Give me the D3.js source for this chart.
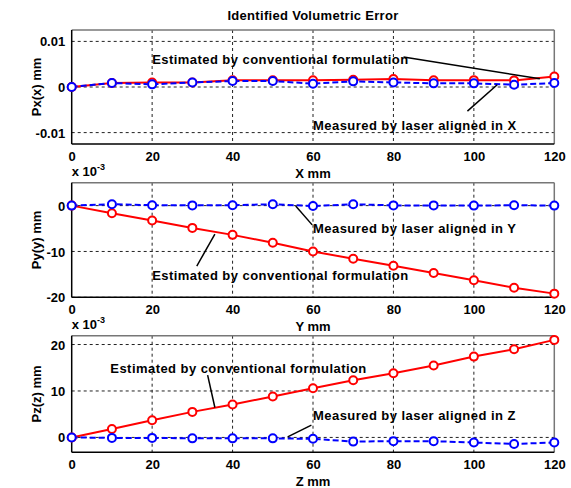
<!DOCTYPE html>
<html>
<head>
<meta charset="utf-8">
<script src="https://d3js.org/d3.v7.min.js"></script>
<style>
  body { margin: 0; background: #fff; }
  text { font-family: "Liberation Sans", Arial, sans-serif; font-weight: bold; fill: #000; }
</style>
</head>
<body>
<script>
// positions along each axis (mm)
var positions = [0, 10, 20, 30, 40, 50, 60, 70, 80, 90, 100, 110, 120]
var xTicks = [0, 20, 40, 60, 80, 100, 120]

// Px(x), mm
var pxEstimated = [0, 0.00088, 0.001, 0.001, 0.00146, 0.00146, 0.00146, 0.0016, 0.00175, 0.00146, 0.0015, 0.00145, 0.0023]
var pxMeasured  = [0, 0.00088, 0.00058, 0.001, 0.0013, 0.0013, 0.00073, 0.00124, 0.001, 0.0008, 0.0008, 0.0005, 0.00087]
// Py(y), x 10^-3 mm
var pyEstimated = [0, -1.67, -3.26, -4.86, -6.38, -8.1, -10.0, -11.6, -13.1, -14.7, -16.3, -17.9, -19.2]
var pyMeasured  = [0, 0.3, 0.1, 0.05, 0.1, 0.3, -0.1, 0.3, 0.05, 0.05, 0.0, 0.1, 0.0]
// Pz(z), x 10^-3 mm
var pzEstimated = [0, 1.8, 3.7, 5.5, 7.1, 8.8, 10.6, 12.3, 13.8, 15.5, 17.4, 19.0, 21.0]
var pzMeasured  = [0, -0.1, -0.1, -0.2, -0.2, -0.2, -0.3, -0.9, -0.8, -0.8, -1.1, -1.4, -1.1]

var panels = [
  { est: pxEstimated, meas: pxMeasured, yDomain: [-0.0125, 0.0125], yTicks: [-0.01, 0, 0.01],
    yLabel: "Px(x) mm", xLabel: "X mm", scaleNote: false, top: 30, bottom: 144,
    notes: [
      { text: "Estimated by conventional formulation", tx: 20, ty: 0.0061, line: [82.5, 0.0066, 116.4, 0.0018] },
      { text: "Measured by laser aligned in X", tx: 60, ty: -0.0083, line: [105.8, 0.0005, 98.4, -0.0053] }
    ] },
  { est: pyEstimated, meas: pyMeasured, yDomain: [-20, 5], yTicks: [-20, -10, 0],
    yLabel: "Py(y) mm", xLabel: "Y mm", scaleNote: true, top: 182.7, bottom: 297.3,
    notes: [
      { text: "Measured by laser aligned in Y", tx: 60, ty: -4.9, line: [55.7, -0.1, 59.8, -4.2] },
      { text: "Estimated by conventional formulation", tx: 20, ty: -15.2, line: [31.1, -13.2, 35.6, -6.2] }
    ] },
  { est: pzEstimated, meas: pzMeasured, yDomain: [-3.2, 21.9], yTicks: [0, 10, 20],
    yLabel: "Pz(z) mm", xLabel: "Z mm", scaleNote: true, top: 335.7, bottom: 452.3,
    notes: [
      { text: "Estimated by conventional formulation", tx: 9.6, ty: 14.8, line: [33.8, 13.4, 35.6, 6.45] },
      { text: "Measured by laser aligned in Z", tx: 60, ty: 4.8, line: [59.6, 2.65, 53.7, 0.13] }
    ] }
]

var width = 571, height = 488
var left = 71.7, right = 554.3

var svg = d3.select("body").append("svg")
  .attr("width", width).attr("height", height)

svg.append("text")
  .attr("x", (left + right) / 2).attr("y", 19.5)
  .attr("text-anchor", "middle")
  .attr("font-size", "13px").attr("letter-spacing", "0.3px")
  .text("Identified Volumetric Error")

var x = d3.scaleLinear().domain([0, 120]).range([left, right])

panels.forEach(function(p) {
  var y = d3.scaleLinear().domain(p.yDomain).range([p.bottom, p.top])
  var g = svg.append("g")

  // grid
  g.selectAll(".vgrid").data(xTicks.slice(1, -1)).enter().append("line")
    .attr("x1", d => x(d)).attr("x2", d => x(d))
    .attr("y1", p.top).attr("y2", p.bottom)
    .attr("stroke", "#222").attr("stroke-width", 1).attr("stroke-dasharray", "3,3")
  g.selectAll(".hgrid").data(p.yTicks).enter().append("line")
    .attr("x1", left).attr("x2", right)
    .attr("y1", d => y(d)).attr("y2", d => y(d))
    .attr("stroke", "#222").attr("stroke-width", 1).attr("stroke-dasharray", "3,3")

  // box
  g.append("line").attr("x1", left).attr("x2", right).attr("y1", p.top).attr("y2", p.top)
    .attr("stroke", "#777").attr("stroke-width", 1.5)
  g.append("line").attr("x1", right).attr("x2", right).attr("y1", p.top).attr("y2", p.bottom)
    .attr("stroke", "#777").attr("stroke-width", 1.5)
  g.append("line").attr("x1", left).attr("x2", right).attr("y1", p.bottom).attr("y2", p.bottom)
    .attr("stroke", "#000").attr("stroke-width", 1.5)
  g.append("line").attr("x1", left).attr("x2", left).attr("y1", p.top).attr("y2", p.bottom)
    .attr("stroke", "#000").attr("stroke-width", 1.5)

  // tick labels
  var xAxis = d3.axisBottom(x).tickValues(xTicks).tickSize(0).tickPadding(0).tickFormat(d3.format("d"))
  var xa = g.append("g").attr("transform", "translate(0," + p.bottom + ")").call(xAxis)
  xa.select(".domain").remove()
  xa.selectAll("text").attr("font-size", "13px").attr("dy", null).attr("y", 17)
    .attr("font-family", null)

  var yAxis = d3.axisLeft(y).tickValues(p.yTicks).tickSize(0).tickPadding(6.5)
    .tickFormat(d => d === 0 ? "0" : String(d))
  var ya = g.append("g").attr("transform", "translate(" + left + ",0)").call(yAxis)
  ya.select(".domain").remove()
  ya.selectAll("text").attr("font-size", "13px").attr("dy", "0.35em").attr("font-family", null)

  g.append("text")
    .attr("x", (left + right) / 2).attr("y", p.bottom + 34)
    .attr("text-anchor", "middle").attr("font-size", "13px")
    .text(p.xLabel)

  g.append("text")
    .attr("transform", "translate(41," + ((p.top + p.bottom) / 2) + ") rotate(-90)")
    .attr("text-anchor", "middle").attr("font-size", "13px")
    .text(p.yLabel)

  if (p.scaleNote) {
    var t = g.append("text").attr("x", left).attr("y", p.top - 7).attr("font-size", "13px")
    t.append("tspan").text("x 10")
    t.append("tspan").attr("dy", -6).attr("font-size", "9px").text("-3")
  }

  // series
  var line = d3.line().x((d, i) => x(positions[i])).y(d => y(d))
  g.append("path").datum(p.est).attr("d", line)
    .attr("fill", "none").attr("stroke", "#ff0000").attr("stroke-width", 2)
  g.append("path").datum(p.meas).attr("d", line)
    .attr("fill", "none").attr("stroke", "#0000ff").attr("stroke-width", 2).attr("stroke-dasharray", "6,3")
  g.selectAll(".estm").data(p.est).enter().append("circle")
    .attr("cx", (d, i) => x(positions[i])).attr("cy", d => y(d)).attr("r", 4)
    .attr("fill", "#fff").attr("stroke", "#ff0000").attr("stroke-width", 2)
  g.selectAll(".measm").data(p.meas).enter().append("circle")
    .attr("cx", (d, i) => x(positions[i])).attr("cy", d => y(d)).attr("r", 4)
    .attr("fill", "#fff").attr("stroke", "#0000ff").attr("stroke-width", 2)

  // annotations
  p.notes.forEach(function(n) {
    g.append("line")
      .attr("x1", x(n.line[0])).attr("y1", y(n.line[1]))
      .attr("x2", x(n.line[2])).attr("y2", y(n.line[3]))
      .attr("stroke", "#000").attr("stroke-width", 1.5)
    g.append("text")
      .attr("x", x(n.tx)).attr("y", y(n.ty)).attr("dy", "0.36em")
      .attr("font-size", "13px").attr("letter-spacing", "0.45px")
      .text(n.text)
  })
})
</script>
</body>
</html>
